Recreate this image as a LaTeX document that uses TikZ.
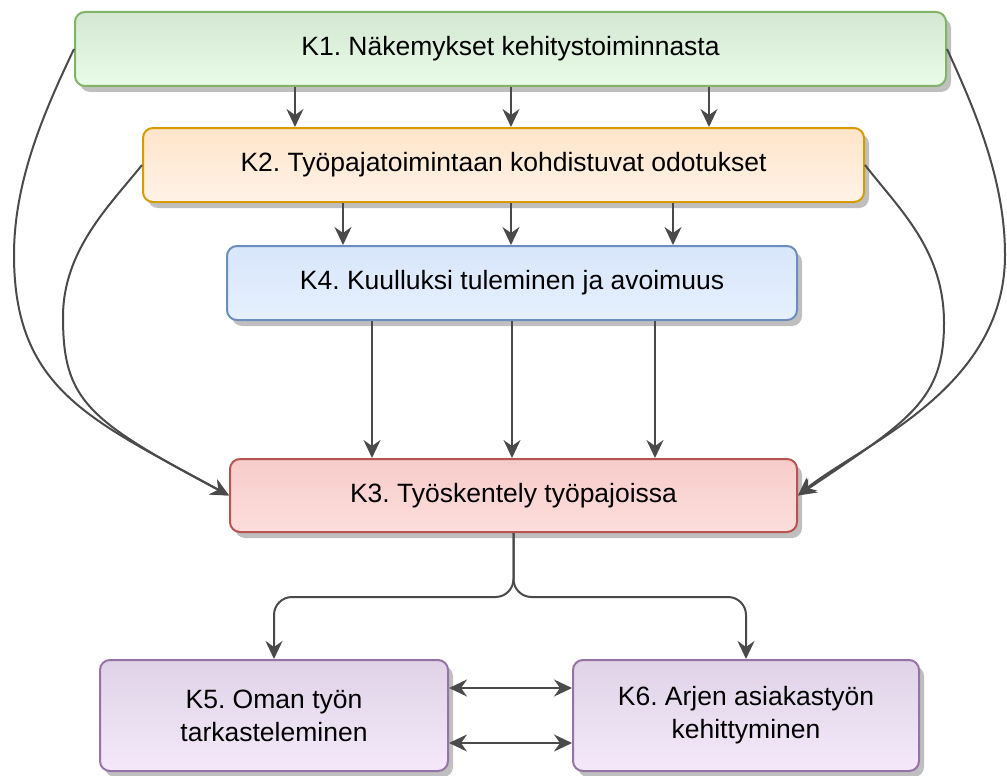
\documentclass[tikz,border=0pt]{standalone}
\usepackage{fontspec}
\setmainfont{Liberation Sans}
\usetikzlibrary{shadows,arrows.meta}
\frenchspacing
\definecolor{lc}{HTML}{4A4A4A}
\definecolor{gS}{HTML}{82B366}\definecolor{gT}{HTML}{D3E7D2}\definecolor{gB}{HTML}{E8FCE7}
\definecolor{oS}{HTML}{D79B00}\definecolor{oT}{HTML}{FFE4C9}\definecolor{oB}{HTML}{FFF3E8}
\definecolor{bS}{HTML}{6C8EBF}\definecolor{bT}{HTML}{D8E6FB}\definecolor{bB}{HTML}{E6F0FE}
\definecolor{rS}{HTML}{B85450}\definecolor{rT}{HTML}{F7CCCA}\definecolor{rB}{HTML}{FCDEDC}
\definecolor{pS}{HTML}{9673A6}\definecolor{pT}{HTML}{E0D3E7}\definecolor{pB}{HTML}{F4E8FA}
\begin{document}
\begin{tikzpicture}[x=1pt,y=-1pt,
  box/.style={rounded corners=10pt, line width=2pt, inner sep=0pt, align=center,
    font=\fontsize{26.5}{33}\selectfont\frenchspacing, text=black,
    drop shadow={shadow xshift=5pt, shadow yshift=-6pt, fill=black!50, opacity=.5}},
  greenbox/.style={box, draw=gS, top color=gT, bottom color=gB},
  orangebox/.style={box, draw=oS, top color=oT, bottom color=oB},
  bluebox/.style={box, draw=bS, top color=bT, bottom color=bB},
  redbox/.style={box, draw=rS, top color=rT, bottom color=rB},
  purplebox/.style={box, draw=pS, top color=pT, bottom color=pB},
  tip/.tip={Stealth[length=18pt,width=17pt,inset=6pt]},
  arr/.style={draw=lc, line width=2pt, -tip, fill=none},
  arrtwo/.style={draw=lc, line width=2pt, tip-tip, fill=none}
]
\useasboundingbox (0,0) rectangle (1007,776);

\node[greenbox, minimum width=871pt, minimum height=74pt] (K1) at (510.5,49) {K1. Näkemykset kehitystoiminnasta};
\node[orangebox, minimum width=721pt, minimum height=74pt] (K2) at (503.5,165) {K2. Työpajatoimintaan kohdistuvat odotukset};
\node[bluebox, minimum width=570pt, minimum height=74pt] (K4) at (512,283) {K4. Kuulluksi tuleminen ja avoimuus};
\node[redbox, minimum width=567pt, minimum height=73pt] (K3) at (513.5,495.5) {K3. Työskentely työpajoissa};
\node[purplebox, minimum width=348pt, minimum height=111pt] (K5) at (274,715.5) {K5. Oman työn\\tarkasteleminen};
\node[purplebox, minimum width=346pt, minimum height=111pt] (K6) at (746,715.5) {K6. Arjen asiakastyön\\kehittyminen};

% K1 -> K2
\foreach \dx in {-215.5,0.5,198.5}
  \draw[arr] ([xshift=\dx pt]K1.south) -- ([xshift=\dx pt]K1.south |- K2.north);
% K2 -> K4
\foreach \dx in {-160.5,7.5,169.5}
  \draw[arr] ([xshift=\dx pt]K2.south) -- ([xshift=\dx pt]K2.south |- K4.north);
% K4 -> K3
\foreach \dx in {-140,0,143}
  \draw[arr] ([xshift=\dx pt]K4.south) -- ([xshift=\dx pt]K4.south |- K3.north);

% curved connectors into K3
\draw[arr] (K1.west) .. controls (45,110) and (14,180) .. (14,255)
  .. controls (14,390) and (91,420) .. (K3.west);
\draw[arr] (K2.west) .. controls (110,205) and (63,250) .. (63,317)
  .. controls (63,400) and (87,420) .. (K3.west);
\draw[arr] (K1.east) .. controls (975,110) and (1005,180) .. (1005,255)
  .. controls (1005,390) and (860,445) .. (K3.east);
\draw[arr] (K2.east) .. controls (900,210) and (944,250) .. (944,323)
  .. controls (944,400) and (910,420) .. (K3.east);

% K3 -> K5, K6
\coordinate (split) at (513.5,597);
\draw[arr, rounded corners=18pt] (K3.south) -- (split) -| (K5.north);
\draw[arr, rounded corners=18pt] (K3.south) -- (split) -| (K6.north);

% K5 <-> K6
\draw[arrtwo] ([yshift=27.5pt]K5.east) -- ([yshift=27.5pt]K6.west);
\draw[arrtwo] ([yshift=-27.5pt]K5.east) -- ([yshift=-27.5pt]K6.west);
\end{tikzpicture}
\end{document}
